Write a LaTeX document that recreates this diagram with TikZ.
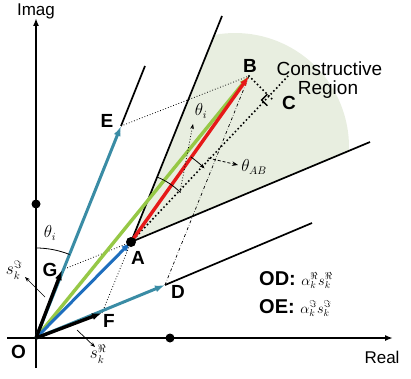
\documentclass[tikz,border=0pt]{standalone}
\usepackage{fontspec}
\setmainfont{Liberation Sans}
\usepackage{amsmath,amssymb}
\usetikzlibrary{arrows.meta,calc}
\definecolor{teal1}{RGB}{58,140,165}
\definecolor{blue1}{RGB}{30,110,190}
\definecolor{green1}{RGB}{150,200,70}
\definecolor{red1}{RGB}{230,25,25}
\definecolor{region}{RGB}{232,238,224}
\begin{document}
\begin{tikzpicture}[x=1pt,y=1pt,
  axis/.style={line width=2pt,-{Latex[length=8pt,width=6pt]}},
  bnd/.style={line width=1.7pt},
  thindot/.style={dotted,line width=0.8pt},
  thindd/.style={dash dot,line width=0.7pt},
  thickdot/.style={line width=2.2pt,dash pattern=on 0pt off 4pt,line cap=round},
  vec/.style={line width=3pt,-{Latex[length=10pt,width=7pt]}},
  lbl/.style={font=\fontsize{19}{22}\selectfont\bfseries,inner sep=0pt},
  txt/.style={font=\fontsize{17}{20}\selectfont,inner sep=0pt},
  bigtxt/.style={font=\fontsize{19}{22}\selectfont,inner sep=0pt},
  mth/.style={font=\fontsize{16}{19}\selectfont,inner sep=0pt},
  leg/.style={font=\fontsize{20}{23}\selectfont\bfseries,inner sep=0pt,anchor=west},
  dot/.style={circle,fill=black,inner sep=0pt,minimum size=9pt}
]
\useasboundingbox (0,0) rectangle (411,378);
% key points
\coordinate (O) at (36,40);
\coordinate (G) at (62,108);
\coordinate (F) at (102,65);
\coordinate (A) at (131,136);
\coordinate (E) at (121,252);
\coordinate (D) at (165,93);
\coordinate (B) at (249,302);
\coordinate (C) at (273,278);
\coordinate (Cext) at (288,302);
\coordinate (Eend) at (145,312);
\coordinate (Dend) at (312,155);
\coordinate (Aup) at (222,362);
\coordinate (Alow) at (370,236);
\coordinate (xL) at (7,40);
\coordinate (xR) at (393,40);
\coordinate (yB) at (36,10);
\coordinate (yT) at (36,360);
\coordinate (Rc) at (235,231);
% constructive region
\fill[region] (A) -- ($(Rc)+(-2.4:114)$) arc[start angle=-2.4,end angle=100.4,radius=114] -- cycle;
% axes
\draw[axis] (xL) -- (xR);
\draw[axis] (yB) -- (yT);
\node[dot] (d1) at (36,174) {};
\node[dot] (d2) at (170,40) {};
% boundary lines
\draw[bnd] (E) -- (Eend);
\draw[bnd] (D) -- (Dend);
\draw[bnd] (A) -- (Aup);
\draw[bnd] (A) -- (Alow);
% thin dotted parallelogram lines
\draw[thindot] (E) -- (B);
\draw[thindd] (D) -- (B);
\draw[thindot] (G) -- (A);
\draw[thindot] (F) -- (A);
% thick dotted A-C-B
\draw[thickdot] (A) -- (Cext);
\draw[thickdot] (B) -- (C);
\draw[line width=1.4pt] ($(C)+(225:8)$) -- ($(C)+(225:8)+(135:8)$) -- ($(C)+(135:8)$);
% vectors
\draw[vec,teal1] (O) -- (E);
\draw[vec,teal1] (O) -- (D);
\draw[vec,green1,line width=3.4pt] (O) -- (B);
\draw[vec,red1,line width=3.4pt] (A) -- (B);
\draw[vec,blue1] (O) -- (A);
\draw[vec,black,line width=3.4pt] (O) -- (G);
\draw[vec,black,line width=3.4pt] (O) -- (F);
\node[dot,minimum size=10pt] (Adot) at (A) {};
% angle arcs
\draw[line width=0.8pt] (O) ++(68.1:90) arc[start angle=68.1,end angle=90,radius=90];
\draw[line width=0.8pt] (A) ++(68.1:70) arc[start angle=68.1,end angle=45,radius=70];
\draw[line width=0.8pt,-{Stealth[length=5pt]}] (A) ++(54.9:104) arc[start angle=54.9,end angle=45,radius=104];
\coordinate (ti0) at (180,186);
\coordinate (ti1) at (193,254);
\draw[thindot,-{Stealth[length=5pt]}] (ti0) -- (ti1);
\coordinate (tab0) at (208,220);
\coordinate (tab1) at (238,213);
\draw[densely dashed,line width=0.8pt,-{Stealth[length=6pt]}] (tab0) -- (tab1);
% s_k arrows
\coordinate (si0) at (45,81);
\coordinate (si1) at (25,101);
\draw[line width=0.7pt,-{Stealth[length=5pt]}] (si0) -- (si1);
\coordinate (sr0) at (77,48);
\coordinate (sr1) at (95,31);
\draw[line width=0.7pt,-{Stealth[length=5pt]}] (sr0) -- (sr1);
% labels
\node[txt] (limag) at (36,367) {Imag};
\node[txt] (lreal) at (382,21) {Real};
\node[lbl] (lO) at (18.5,26) {O};
\node[lbl] (lG) at (50,108) {G};
\node[lbl] (lF) at (109,57) {F};
\node[lbl] (lA) at (138,120) {A};
\node[lbl] (lD) at (178,86) {D};
\node[lbl] (lE) at (107,257) {E};
\node[lbl] (lB) at (250,312) {B};
\node[lbl] (lC) at (289,275) {C};
\node[bigtxt] (lcons) at (329.5,309.5) {Constructive};
\node[bigtxt] (lreg) at (328,288) {Region};
\node[mth] (lti1) at (50,145) {$\theta_i$};
\node[mth] (lti2) at (201,267) {$\theta_i$};
\node[mth] (ltab) at (254,211) {$\theta_{AB}$};
\node[mth] (lsi) at (14,108) {$s_k^{\Im}$};
\node[mth] (lsr) at (98,24) {$s_k^{\Re}$};
\node[leg] (lod) at (259,98) {OD: \fontsize{14}{16}\selectfont$\alpha_k^{\Re}s_k^{\Re}$};
\node[leg] (loe) at (259,70) {OE: \fontsize{14}{16}\selectfont$\alpha_k^{\Im}s_k^{\Im}$};
\end{tikzpicture}
\end{document}
